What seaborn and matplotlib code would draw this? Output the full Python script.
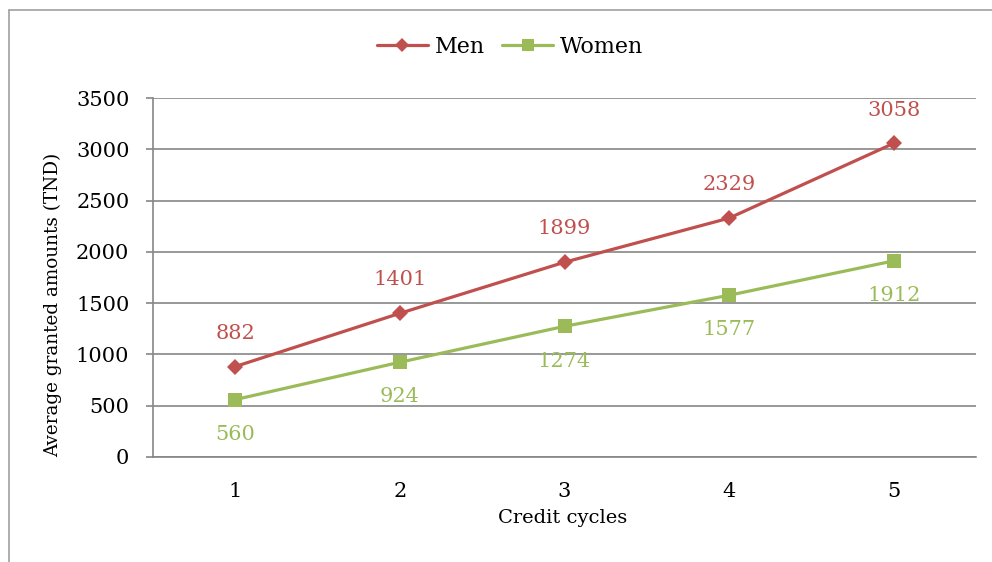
import matplotlib
matplotlib.use("Agg")
import matplotlib.pyplot as plt
from matplotlib.lines import Line2D
import seaborn as sns
import pandas as pd

cycles = [1, 2, 3, 4, 5]
men = [882, 1401, 1899, 2329, 3058]
women = [560, 924, 1274, 1577, 1912]
y_ticks = [0, 500, 1000, 1500, 2000, 2500, 3000, 3500]

sns.set_style("white")
plt.rcParams['font.family'] = ['DejaVu Serif']
plt.rcParams['text.color'] = 'black'
plt.rcParams['axes.labelcolor'] = 'black'
plt.rcParams['xtick.labelcolor'] = 'black'
plt.rcParams['ytick.labelcolor'] = 'black'

MEN_C = "#C0504D"
WOMEN_C = "#9BBB59"
GRID_C = "#868686"

fig = plt.figure(figsize=(9.92, 5.62), dpi=100)
ax = fig.add_axes([153/992, 1-457/562, 823/992, 359/562])

df = pd.DataFrame({"cycle": cycles * 2,
                   "value": men + women,
                   "series": ["Men"] * 5 + ["Women"] * 5})

sns.lineplot(data=df[df.series == "Men"], x="cycle", y="value", ax=ax,
             color=MEN_C, marker="D", markersize=8.5, markeredgewidth=0,
             linewidth=2.3, label="Men")
sns.lineplot(data=df[df.series == "Women"], x="cycle", y="value", ax=ax,
             color=WOMEN_C, marker="s", markersize=10, markeredgewidth=0,
             linewidth=2.3, label="Women")

for x, v in zip(cycles, men):
    ax.annotate(str(v), (x, v), xytext=(0, 24), textcoords="offset points",
                ha="center", va="center", color=MEN_C, fontsize=15)
for x, v in zip(cycles, women):
    ax.annotate(str(v), (x, v), xytext=(0, -25), textcoords="offset points",
                ha="center", va="center", color=WOMEN_C, fontsize=15)

ax.set_xlim(0.5, 5.5)
ax.set_ylim(0, 3500)
ax.set_yticks(y_ticks)
ax.set_yticklabels([str(t) for t in y_ticks], fontsize=15)
ax.set_xticks(cycles)
ax.set_xticklabels([str(c) for c in cycles], fontsize=15)
ax.set_xticks([0.5, 1.5, 2.5, 3.5, 4.5, 5.5], minor=True)
ax.tick_params(axis="x", which="major", length=0, pad=18)
ax.tick_params(axis="x", which="minor", length=5, width=1.2, color=GRID_C, direction="out")
ax.tick_params(axis="y", which="major", length=5, width=1.2, color=GRID_C, direction="out", pad=12, left=True)

ax.yaxis.grid(True, color=GRID_C, linewidth=1.2)
ax.xaxis.grid(False)
ax.set_axisbelow(True)
for s in ["top", "right"]:
    ax.spines[s].set_visible(False)
for s in ["left", "bottom"]:
    ax.spines[s].set_color(GRID_C)
    ax.spines[s].set_linewidth(1.2)

ax.set_ylabel("Average granted amounts (TND)", fontsize=13.2)
ax.yaxis.set_label_coords(-0.111, 0.423)
ax.set_xlabel("Credit cycles", fontsize=14)
ax.xaxis.set_label_coords(0.498, -0.145)

leg = ax.legend(loc="center", bbox_to_anchor=(510/992, 1-47/562), bbox_transform=fig.transFigure,
                ncol=2, frameon=False, fontsize=16, handlelength=2.3, columnspacing=0.8,
                handletextpad=0.3, markerscale=0.8)

# outer chart border
fig.add_artist(Line2D([9/992, 9/992], [0, 1-10/562], transform=fig.transFigure,
                      color="#a0a0a0", linewidth=1.2))
fig.add_artist(Line2D([9/992, 1], [1-10/562, 1-10/562], transform=fig.transFigure,
                      color="#a0a0a0", linewidth=1.2))

fig.savefig("out.png", dpi=100)
